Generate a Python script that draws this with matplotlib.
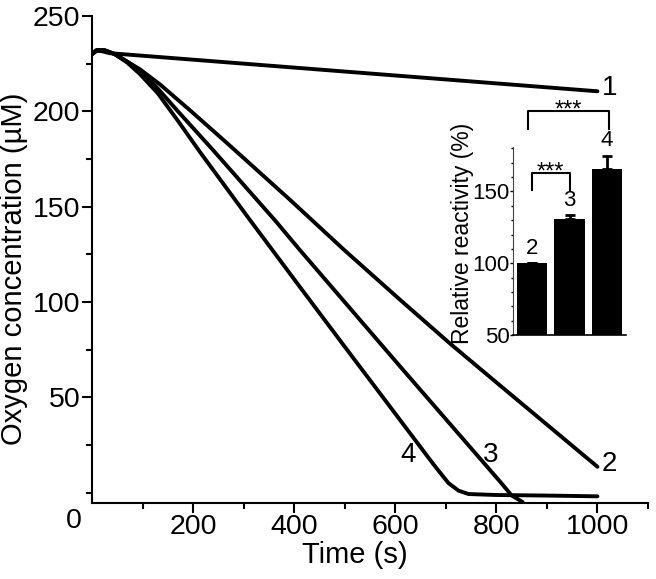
import numpy as np
import matplotlib.pyplot as plt
from matplotlib.ticker import MultipleLocator

plt.rcParams['font.family'] = ['Liberation Sans', 'DejaVu Sans']

# oxygen traces (time in s, O2 in uM)
t1 = [0, 8, 20, 35, 1000]
o1 = [230, 232, 231.5, 230.5, 210.5]

t2 = [0, 10, 25, 45, 70, 95, 135, 194, 260, 279, 392, 500, 610, 709, 808, 1000]
o2 = [230, 232, 232, 230, 226, 222, 214, 200.5, 185, 180.5, 153.5, 127, 101, 78, 56, 13.5]

t3 = [0, 10, 25, 45, 70, 95, 130, 170, 240, 362, 412, 610, 700, 808, 830, 852]
o3 = [230, 232, 232, 230, 226, 221.5, 212, 200, 179.5, 142.8, 127, 66, 38.5, 5.5, -1.5, -5]

t4 = [0, 10, 25, 45, 70, 95, 130, 170, 214, 313, 412, 500, 584, 675, 705, 725, 745, 800, 900, 1000]
o4 = [230, 232, 232, 230, 225.5, 219.5, 209.5, 195, 178.5, 142.8, 107.6, 76.5, 47, 15, 5, 1, -0.8, -1.3, -1.6, -2]

# inset: relative reactivity
bar_ids = ['2', '3', '4']
rel = [100, 130.5, 166]
rel_err = [0, 3, 9]

fig = plt.figure(figsize=(6.56, 5.79), dpi=100)
ax = fig.add_axes([92/656, 1-503/579, 556/656, 487/579])

for t, o in [(t1, o1), (t2, o2), (t3, o3), (t4, o4)]:
    ax.plot(t, o, color='black', lw=2.8, solid_capstyle='round', solid_joinstyle='round')

ax.set_xlim(0, 1100)
ax.set_ylim(-5.5, 250)
ax.set_xticks([200, 400, 600, 800, 1000])
ax.xaxis.set_minor_locator(MultipleLocator(200, offset=100))
ax.set_yticks([50, 100, 150, 200, 250])
ax.set_yticks([0, 25, 75, 125, 175, 225], minor=True)
for s in ['top', 'right']:
    ax.spines[s].set_visible(False)
for s in ['left', 'bottom']:
    ax.spines[s].set_linewidth(1.5)
ax.tick_params(which='major', direction='out', length=7, width=1.5, labelsize=20.5)
ax.tick_params(which='minor', direction='out', length=4, width=1.5)
ax.tick_params(axis='y', pad=1.5)
ax.tick_params(axis='x', pad=1)

ax.set_xlabel('Time (s)', fontsize=21)
ax.xaxis.set_label_coords(0.473, -0.078)
ax.set_ylabel('Oxygen concentration (µM)', fontsize=21)
ax.yaxis.set_label_coords(-0.115, 0.48)
ax.text(-35, -15.2, '0', fontsize=20.5, ha='center', va='center', clip_on=False)

# trace labels
ax.text(1025, 212, '1', fontsize=20, ha='center', va='center')
ax.text(1024, 15, '2', fontsize=20, ha='center', va='center')
ax.text(788, 19.5, '3', fontsize=20, ha='center', va='center')
ax.text(626, 19.5, '4', fontsize=20, ha='center', va='center')

# inset bar chart
ax2 = fig.add_axes([513/656, 1-335/579, 113/656, 188/579])
x = np.arange(1, 4)
ax2.bar(x, rel, width=0.8, color='black',
        yerr=[[0, 0, 0], rel_err],
        error_kw=dict(ecolor='black', elinewidth=2, capsize=3.5, capthick=2))
ax2.set_xlim(0.5, 3.5)
ax2.set_ylim(50, 181)
ax2.set_xticks([])
ax2.set_yticks([50, 100, 150])
ax2.yaxis.set_minor_locator(MultipleLocator(10))
for s in ['top', 'right']:
    ax2.spines[s].set_visible(False)
ax2.spines['left'].set_linewidth(0.8)
ax2.spines['left'].set_color('#444444')
ax2.spines['bottom'].set_linewidth(1.2)
ax2.tick_params(which='major', direction='out', length=2, width=1, labelsize=16, pad=0.5)
ax2.tick_params(which='minor', direction='out', length=1.5, width=1)
ax2.set_ylabel('Relative reactivity (%)', fontsize=16.5)
ax2.yaxis.set_label_coords(-0.345, 0.54)

for xi, v, e, lab in zip(x, rel, rel_err, bar_ids):
    ax2.text(xi, v + e + 3, lab, fontsize=16, ha='center', va='bottom')

# significance brackets
ax2.plot([1, 1, 2, 2], [150.7, 162.7, 162.7, 150.7], color='black', lw=1.5, clip_on=False)
ax2.text(1.5, 159, '***', fontsize=17, ha='center', va='baseline', clip_on=False)
ax2.plot([0.9, 0.9, 3.05, 3.05], [193.7, 206.3, 206.3, 193.7], color='black', lw=1.5, clip_on=False)
ax2.text(1.97, 202.5, '***', fontsize=17, ha='center', va='baseline', clip_on=False)

fig.savefig('out.png', dpi=100)
